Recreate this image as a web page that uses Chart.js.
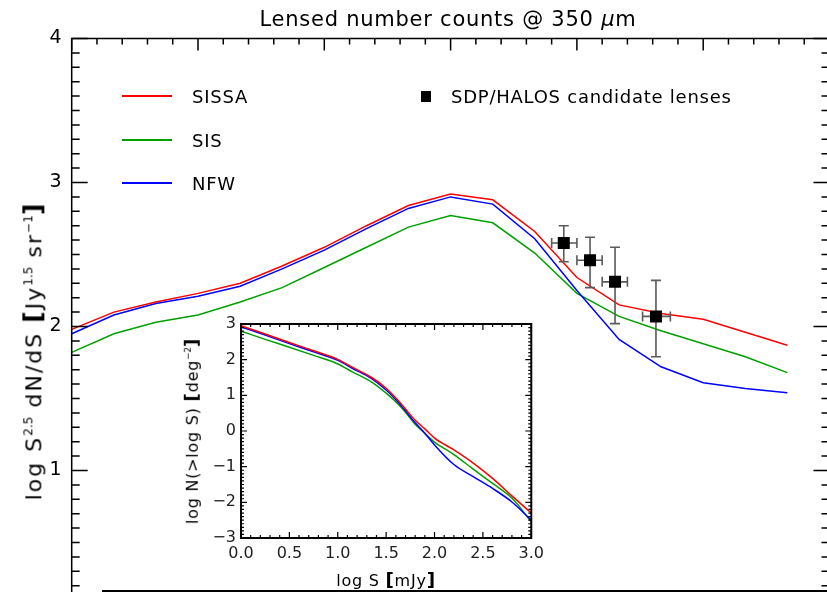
<!DOCTYPE html>
<html>
<head>
<meta charset="utf-8">
<script src="https://cdn.jsdelivr.net/npm/chart.js@4.4.1/dist/chart.umd.min.js"></script>
<style>
  html, body { margin: 0; padding: 0; background: #fff; overflow: hidden; width: 827px; height: 592px; }
  body { position: relative; font-family: 'DejaVu Sans', sans-serif; color: #000; }
  canvas { position: absolute; }
  #mainChart { left: 0; top: 0; }
  #insetChart { left: 150px; top: 300px; }
  .txt { position: absolute; white-space: nowrap; letter-spacing: 0.75px; line-height: 1; }
  .swatch { position: absolute; height: 2px; width: 50px; }
  .rot { transform: translate(-50%, -50%) rotate(-90deg); }
  sup { font-size: 0.55em; vertical-align: 0.75em; letter-spacing: 0; }
  .br { font-weight: bold; font-size: 1.15em; }
  #bottomRule { position: absolute; left: 102px; top: 590px; width: 730px; height: 2px; background: #000; }
</style>
</head>
<body>
<canvas id="mainChart" width="840" height="640"></canvas>
<canvas id="insetChart" width="400" height="292"></canvas>

<div class="txt" id="title" style="left:448px; top:9px; font-size:21px; transform:translateX(-50%);">Lensed number counts @ 350 <i>&mu;</i>m</div>

<div class="swatch" style="left:122px; top:95px; background:rgb(255,0,0);"></div>
<div class="txt" style="left:192px; top:88px; font-size:18px;">SISSA</div>
<div class="swatch" style="left:122px; top:139px; background:rgb(0,160,0);"></div>
<div class="txt" style="left:192px; top:132px; font-size:18px;">SIS</div>
<div class="swatch" style="left:122px; top:182px; background:rgb(0,0,255);"></div>
<div class="txt" style="left:192px; top:175px; font-size:18px;">NFW</div>
<div style="position:absolute; left:421px; top:91px; width:10px; height:11px; background:#000;"></div>
<div class="txt" style="left:451px; top:88px; font-size:18px;">SDP/HALOS candidate lenses</div>

<div class="txt rot" style="left:33px; top:351px; font-size:22px; letter-spacing:2px;">log S<sup>2.5</sup> dN/dS <span class="br">[</span>Jy<sup>1.5</sup> sr<sup>&minus;1</sup><span class="br">]</span></div>
<div class="txt rot" style="left:192px; top:431px; font-size:16px;">log N(&gt;log S) <span class="br">[</span>deg<sup>&minus;2</sup><span class="br">]</span></div>
<div class="txt" style="left:386px; top:571px; font-size:16px; transform:translateX(-50%);">log S <span class="br">[</span>mJy<span class="br">]</span></div>

<div id="bottomRule"></div>

<script>
// main panel: lensed differential counts vs log S [mJy]
const mainLogS = [0, 0.167, 0.333, 0.5, 0.667, 0.833, 1.0, 1.167, 1.333, 1.5, 1.667, 1.833, 2.0, 2.167, 2.333, 2.5, 2.667, 2.833];
const sissaCounts = [1.98, 2.10, 2.17, 2.23, 2.30, 2.42, 2.55, 2.70, 2.84, 2.92, 2.88, 2.66, 2.34, 2.15, 2.09, 2.05, 1.96, 1.87];
const sisCounts = [1.82, 1.95, 2.03, 2.08, 2.17, 2.27, 2.41, 2.55, 2.69, 2.77, 2.72, 2.51, 2.23, 2.07, 1.97, 1.88, 1.79, 1.68];
const nfwCounts = [1.95, 2.08, 2.16, 2.21, 2.28, 2.40, 2.53, 2.68, 2.82, 2.90, 2.85, 2.61, 2.25, 1.91, 1.72, 1.61, 1.57, 1.54];

// SDP/HALOS candidate lenses
const lensLogS = [1.948, 2.052, 2.151, 2.313];
const lensCounts = [2.58, 2.46, 2.31, 2.07];
const lensLow = [2.45, 2.27, 2.02, 1.79];
const lensHigh = [2.70, 2.62, 2.55, 2.32];
const lensSLow = [1.90, 2.00, 2.10, 2.26];
const lensSHigh = [2.00, 2.10, 2.20, 2.37];

// inset: cumulative counts log N(>log S)
const insetLogS = [0, 0.25, 0.5, 0.75, 1.0, 1.15, 1.35, 1.5, 1.65, 1.8, 1.9, 2.0, 2.2, 2.4, 2.6, 2.8, 3.0];
const sissaCum = [2.95, 2.72, 2.48, 2.25, 2.01, 1.79, 1.50, 1.20, 0.78, 0.30, 0.06, -0.20, -0.53, -0.90, -1.33, -1.82, -2.30];
const sisCum = [2.80, 2.57, 2.35, 2.12, 1.88, 1.66, 1.37, 1.06, 0.68, 0.19, -0.07, -0.31, -0.66, -1.07, -1.47, -1.88, -2.55];
const nfwCum = [2.92, 2.69, 2.45, 2.22, 1.98, 1.76, 1.47, 1.15, 0.73, 0.23, -0.06, -0.39, -0.94, -1.28, -1.61, -1.99, -2.50];

const RED = 'rgb(255,0,0)';
const GREEN = 'rgb(0,160,0)';
const BLUE = 'rgb(0,0,255)';

function toPoints(xs, ys) {
    return xs.map((x, i) => ({ x: x, y: ys[i] }));
}

// box around the plot area with IDL-style inward ticks on all four sides
const frameTicks = {
    id: 'frameTicks',
    afterDraw(chart, args, o) {
        const { ctx, chartArea: a, scales: { x, y } } = chart;
        ctx.save();
        ctx.strokeStyle = '#000';
        ctx.lineWidth = o.tickWidth;
        ctx.beginPath();
        const nx = Math.round((x.max - x.min) / o.xMinor);
        for (let i = 0; i <= nx; i++) {
            const v = x.min + i * o.xMinor;
            const r = v / o.xMajor;
            const len = Math.abs(r - Math.round(r)) < 1e-6 ? o.xMajorLen : o.xMinorLen;
            const px = x.getPixelForValue(v);
            ctx.moveTo(px, a.top); ctx.lineTo(px, a.top + len);
            ctx.moveTo(px, a.bottom); ctx.lineTo(px, a.bottom - len);
        }
        const ny = Math.round((y.max - y.min) / o.yMinor);
        for (let i = 0; i <= ny; i++) {
            const v = y.min + i * o.yMinor;
            const r = v / o.yMajor;
            const len = Math.abs(r - Math.round(r)) < 1e-6 ? o.yMajorLen : o.yMinorLen;
            const py = y.getPixelForValue(v);
            ctx.moveTo(a.left, py); ctx.lineTo(a.left + len, py);
            ctx.moveTo(a.right, py); ctx.lineTo(a.right - len, py);
        }
        ctx.stroke();
        ctx.lineWidth = o.width;
        ctx.strokeRect(a.left, a.top, a.right - a.left, a.bottom - a.top);
        ctx.restore();
    }
};

// error bars for the lens candidates, drawn just under the squares
const errorBars = {
    id: 'errorBars',
    beforeDatasetDraw(chart, args) {
        if (args.index !== 0) return;
        const { ctx, scales: { x, y } } = chart;
        const cap = 5;
        ctx.save();
        ctx.strokeStyle = '#5a5a5a';
        ctx.lineWidth = 1.6;
        ctx.beginPath();
        lensLogS.forEach((s, i) => {
            const px = x.getPixelForValue(s);
            const py = y.getPixelForValue(lensCounts[i]);
            const y0 = y.getPixelForValue(lensLow[i]);
            const y1 = y.getPixelForValue(lensHigh[i]);
            const x0 = x.getPixelForValue(lensSLow[i]);
            const x1 = x.getPixelForValue(lensSHigh[i]);
            ctx.moveTo(px, y0); ctx.lineTo(px, y1);
            ctx.moveTo(px - cap, y0); ctx.lineTo(px + cap, y0);
            ctx.moveTo(px - cap, y1); ctx.lineTo(px + cap, y1);
            ctx.moveTo(x0, py); ctx.lineTo(x1, py);
            ctx.moveTo(x0, py - cap); ctx.lineTo(x0, py + cap);
            ctx.moveTo(x1, py - cap); ctx.lineTo(x1, py + cap);
        });
        ctx.stroke();
        ctx.restore();
    }
};

function lineSet(label, xs, ys, color, extra) {
    return Object.assign({
        label: label,
        data: toPoints(xs, ys),
        borderColor: color,
        backgroundColor: color,
        borderWidth: 1.5,
        pointRadius: 0,
        fill: false
    }, extra || {});
}

new Chart(document.getElementById('mainChart'), {
    type: 'line',
    data: {
        datasets: [
            {
                type: 'scatter',
                label: 'SDP/HALOS candidate lenses',
                data: toPoints(lensLogS, lensCounts),
                pointStyle: 'rect',
                pointRadius: 8.5,
                backgroundColor: '#000',
                borderColor: '#000',
                borderWidth: 0
            },
            lineSet('SISSA', mainLogS, sissaCounts, RED),
            lineSet('NFW', mainLogS, nfwCounts, BLUE),
            lineSet('SIS', mainLogS, sisCounts, GREEN)
        ]
    },
    options: {
        responsive: false,
        animation: false,
        layout: { padding: { left: 11.7, top: 38.5, right: 10.5, bottom: 25.5 } },
        plugins: {
            legend: { display: false },
            tooltip: { enabled: false },
            frameTicks: {
                width: 1.5, tickWidth: 1.5,
                xMajor: 0.5, xMinor: 0.1, xMajorLen: 12, xMinorLen: 6,
                yMajor: 1, yMinor: 0.1, yMajorLen: 16, yMinorLen: 8
            }
        },
        scales: {
            x: { type: 'linear', min: 0, max: 3, display: false },
            y: {
                min: 0, max: 4,
                afterFit: s => { s.width = 60; },
                border: { display: false },
                grid: { display: false, drawTicks: false },
                ticks: {
                    stepSize: 1, padding: 10, color: '#000',
                    font: { family: 'DejaVu Sans', size: 19 }
                }
            }
        }
    },
    plugins: [frameTicks, errorBars]
});

new Chart(document.getElementById('insetChart'), {
    type: 'line',
    data: {
        datasets: [
            lineSet('SISSA', insetLogS, sissaCum, RED, { cubicInterpolationMode: 'monotone' }),
            lineSet('NFW', insetLogS, nfwCum, BLUE, { cubicInterpolationMode: 'monotone' }),
            lineSet('SIS', insetLogS, sisCum, GREEN, { cubicInterpolationMode: 'monotone' })
        ]
    },
    options: {
        responsive: false,
        animation: false,
        layout: { padding: { left: 0, top: 24, right: 18, bottom: 24 } },
        plugins: {
            legend: { display: false },
            tooltip: { enabled: false },
            frameTicks: {
                width: 2, tickWidth: 1.2,
                xMajor: 0.5, xMinor: 0.1, xMajorLen: 6, xMinorLen: 3,
                yMajor: 1, yMinor: 0.1, yMajorLen: 6, yMinorLen: 3
            }
        },
        scales: {
            x: {
                type: 'linear', min: 0, max: 3,
                afterFit: s => { s.height = 30; },
                border: { display: false },
                grid: { display: false, drawTicks: false },
                ticks: {
                    stepSize: 0.5, padding: 6, color: '#222', autoSkip: false, maxRotation: 0,
                    font: { family: 'DejaVu Sans', size: 16 },
                    callback: v => v.toFixed(1)
                }
            },
            y: {
                min: -3, max: 3,
                afterFit: s => { s.width = 91; },
                border: { display: false },
                grid: { display: false, drawTicks: false },
                ticks: {
                    stepSize: 1, padding: 5, color: '#222',
                    font: { family: 'DejaVu Sans', size: 16 },
                    callback: v => (v < 0 ? '\u2212' + Math.abs(v) : String(v))
                }
            }
        }
    },
    plugins: [frameTicks]
});
</script>
</body>
</html>
